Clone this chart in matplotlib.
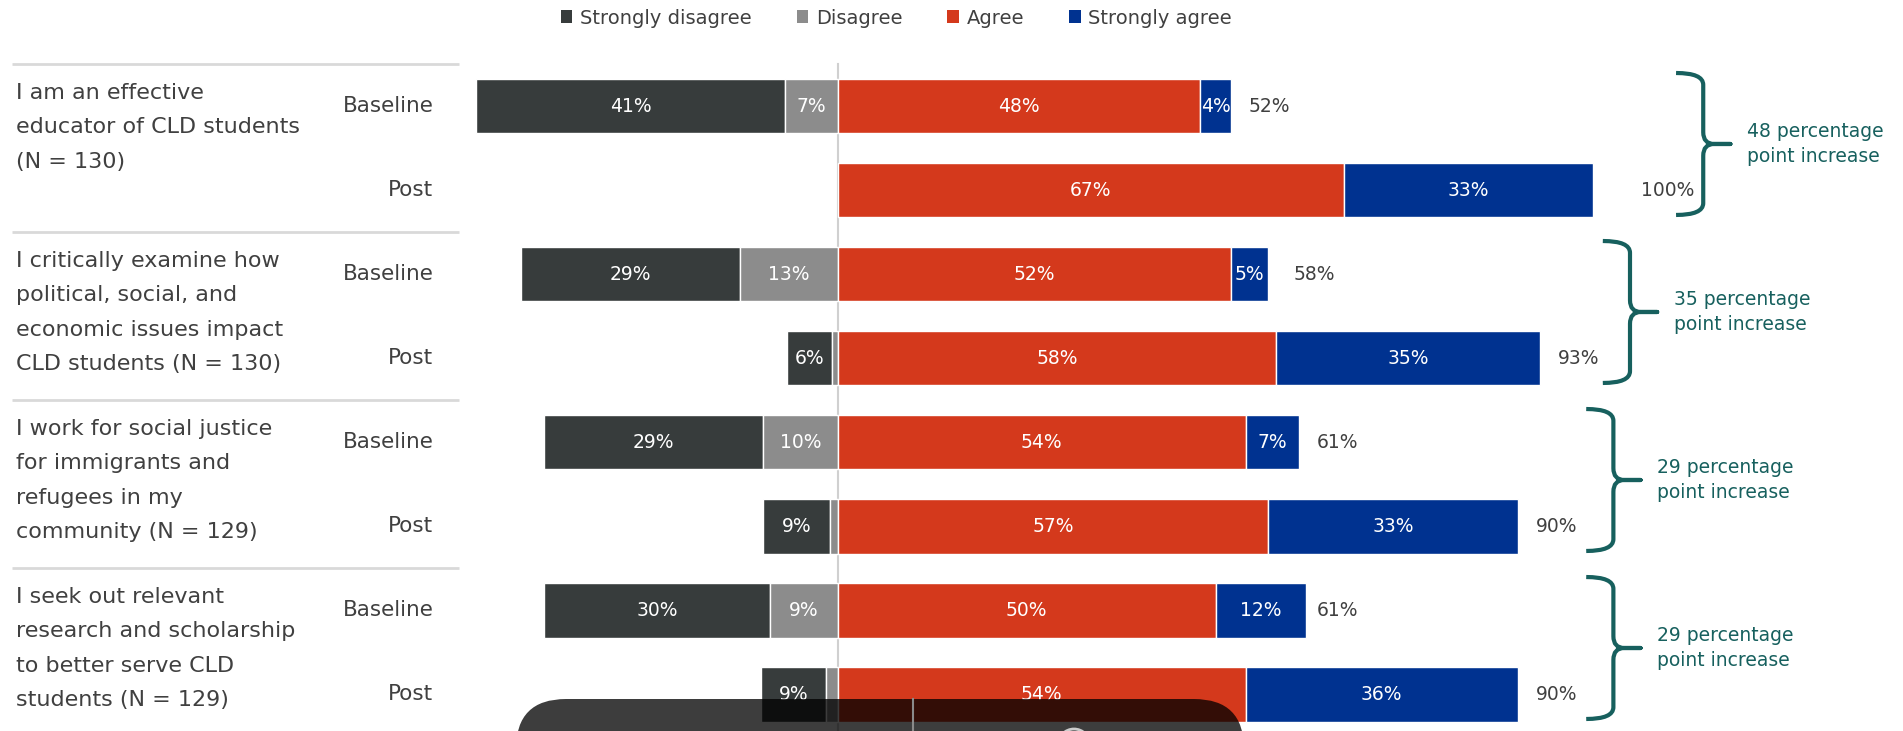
import numpy as np
import matplotlib.pyplot as plt
from matplotlib.patches import Patch, PathPatch, FancyBboxPatch, Circle
from matplotlib.path import Path
from matplotlib.lines import Line2D
from matplotlib.transforms import IdentityTransform

# --- data ---
statements = [
    'I am an effective\neducator of CLD students\n(N = 130)',
    'I critically examine how\npolitical, social, and\neconomic issues impact\nCLD students (N = 130)',
    'I work for social justice\nfor immigrants and\nrefugees in my\ncommunity (N = 129)',
    'I seek out relevant\nresearch and scholarship\nto better serve CLD\nstudents (N = 129)',
]
rounds = ['Baseline', 'Post']
legend_labels = ['Strongly disagree', 'Disagree', 'Agree', 'Strongly agree']

# rows in order: B1, P1, B2, P2, B3, P3, B4, P4
strongly_disagree = [41, 0, 29, 6, 29, 9, 30, 8.6]
disagree = [7, 0, 13, 0.8, 10, 1, 9, 1.6]
agree = [48, 67, 52, 58, 54, 57, 50, 54]
strongly_agree = [4, 33, 5, 35, 7, 33, 12, 36]
totals = [52, 100, 58, 93, 61, 90, 61, 90]
increases = [48, 35, 29, 29]

# layout
brace_left = [111.0, 101.3, 99.1, 99.1]
colors = ['#373c3c', '#8c8c8c', '#d4391c', '#003290']
teal = '#17605e'
grey_text = '#404040'
fs = 13.5


def draw_brace(ax, x0, ytop, ybot, w=7.2, r=0.14):
    xv = x0 + w / 2
    x2 = x0 + w
    xs = xv + 0.2 * w
    ym = (ytop + ybot) / 2
    verts = [(x0, ytop), (xv, ytop), (xv, ytop + r),
             (xv, ym - r), (xv, ym), (xs, ym), (x2, ym),
             (xs, ym), (xv, ym), (xv, ym + r),
             (xv, ybot - r), (xv, ybot), (x0, ybot)]
    codes = [Path.MOVETO, Path.CURVE3, Path.CURVE3,
             Path.LINETO, Path.CURVE3, Path.CURVE3, Path.LINETO,
             Path.LINETO, Path.CURVE3, Path.CURVE3,
             Path.LINETO, Path.CURVE3, Path.CURVE3]
    ax.add_patch(PathPatch(Path(verts, codes), fill=False, edgecolor=teal,
                           lw=3, capstyle='butt', joinstyle='round'))


fig = plt.figure(figsize=(19.03, 7.31), dpi=100)
ax = fig.add_axes([0, 0, 1, 1])
ax.set_xlim(-111.0, 141.06)
ax.set_ylim(7.438, -1.264)
ax.axis('off')

y = np.arange(len(totals))
sd = np.array(strongly_disagree, dtype=float)
d = np.array(disagree, dtype=float)
a = np.array(agree, dtype=float)
sa = np.array(strongly_agree, dtype=float)
h = 0.65

# centre line
ax.plot([0, 0], [-0.5, 7.5], color='#d0d0d0', lw=1.5, zorder=0)

segments = [(-(sd + d), sd), (-d, d), (np.zeros_like(a), a), (a, sa)]
for (left, width), c in zip(segments, colors):
    m = width > 0
    ax.barh(y[m], width[m], left=left[m], height=h, color=c,
            edgecolor='white', lw=1, zorder=2)
    for yi, l, w in zip(y[m], left[m], width[m]):
        if w >= 3:
            ax.text(l + w / 2, yi, f'{w:.0f}%', ha='center', va='center',
                    color='white', fontsize=fs, zorder=3)

for yi, t in zip(y, totals):
    tx = t + 2.4 if t < 100 else t + 6.3
    ax.text(tx, yi, f'{t}%', ha='left', va='center', color=grey_text, fontsize=fs)

# left side: statements, round names, separators
for g, s in enumerate(statements):
    for i, line in enumerate(s.split('\n')):
        ax.text(-108.9, 2 * g - 0.16 + i * 0.41, line, ha='left', va='center',
                color=grey_text, fontsize=16)
    for k, r in enumerate(rounds):
        ax.text(-53.6, 2 * g + k, r, ha='right', va='center',
                color=grey_text, fontsize=15.5)
    ax.plot([-109.4, -50.2], [2 * g - 0.5] * 2, color='#d9d9d9', lw=2,
            solid_capstyle='butt')

    # braces and increase notes
    ytop, ybot = 2 * g - 0.395, 2 * g + 1 + 0.295
    draw_brace(ax, brace_left[g], ytop, ybot)
    ax.text(brace_left[g] + 9.4, (ytop + ybot) / 2,
            f'{increases[g]} percentage\npoint increase', ha='left', va='center',
            color=teal, fontsize=fs, linespacing=1.4)

handles = [Patch(facecolor=c) for c in colors]
fig.legend(handles, legend_labels, loc='center', bbox_to_anchor=(0.471, 1 - 18 / 731),
           ncol=4, frameon=False, fontsize=14, handlelength=0.6, handleheight=0.6,
           handletextpad=0.4, columnspacing=2.3, labelcolor=grey_text)

# dark toolbar overlay at the bottom of the screenshot
tr = IdentityTransform()
fig.add_artist(FancyBboxPatch((516, -70), 728, 102,
                              boxstyle='round,pad=0,rounding_size=50',
                              transform=tr, facecolor='black', alpha=0.76,
                              edgecolor='none', zorder=10))
fig.add_artist(Line2D([913, 913], [0, 32], transform=tr, color='#8a8a8a',
                      lw=1.5, zorder=11))
fig.add_artist(Circle((1074, -14), 16, transform=tr, fill=False,
                      edgecolor='#cccccc', lw=2, zorder=11))

fig.savefig('out.png', dpi=100)
